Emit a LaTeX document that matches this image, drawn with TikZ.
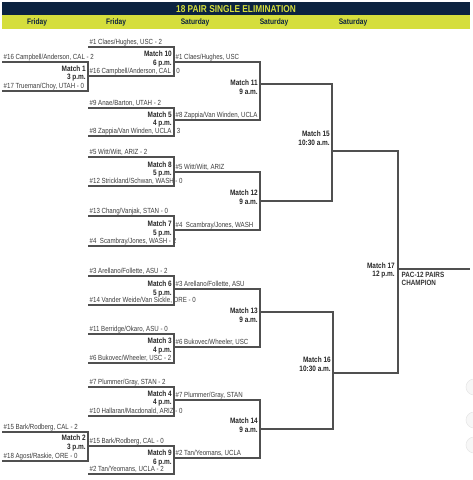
\documentclass[tikz,border=0pt]{standalone}
\usepackage{fontspec}
\setmainfont{Liberation Sans}
\newfontfamily\narrowfont[FakeStretch=0.83]{Liberation Sans}
\usepackage{xcolor}
\usepackage{tikz}
\usetikzlibrary{positioning}
\definecolor{pacnavy}{HTML}{0C2340}
\definecolor{pacyellow}{HTML}{D5DE3C}
\definecolor{linegray}{HTML}{505050}
\definecolor{textgray}{HTML}{3C3C3C}

\begin{document}
\begin{tikzpicture}[
  x=1pt,y=-1pt,
  team/.style={anchor=south west,inner xsep=1.5pt,inner ysep=0.6pt,text depth=1.5pt,font=\narrowfont\fontsize{7.4}{8}\selectfont,text=textgray},
  matchlbl/.style={anchor=east,align=right,inner sep=0pt,font=\narrowfont\bfseries\fontsize{7.8}{8.8}\selectfont,text=black!85},
  champ/.style={anchor=north west,align=left,inner sep=0pt,font=\narrowfont\bfseries\fontsize{7.6}{8.8}\selectfont,text=black!80},
  day/.style={font=\narrowfont\bfseries\fontsize{8}{9}\selectfont,text=pacnavy},
  banner/.style={font=\narrowfont\bfseries\fontsize{10}{11}\selectfont,text=pacyellow},
  bk/.style={draw=linegray,line width=1.1pt}
]
\useasboundingbox (0,0) rectangle (472,480);

% header
\fill[pacnavy] (2,2) rectangle (470,15);
\fill[pacyellow] (2,15) rectangle (470,29);
\node[banner] (title) at (236,8.7) {18 PAIR SINGLE ELIMINATION};
\foreach \x/\d [count=\i] in {37/Friday,116/Friday,195/Saturday,274/Saturday,353/Saturday}
  \node[day] (day\i) at (\x,22.3) {\d};

% Friday, first column
\node[team] (m1a) at (2,62) {\#16 Campbell/Anderson, CAL - 2};
\node[team] (m1b) at (2,91) {\#17 Trueman/Choy, UTAH - 0};
\coordinate (v1t) at (88,62); \coordinate (v1b) at (88,91); \coordinate (m1o) at (88,76);
\draw[bk] (m1a.south west) -- (v1t) -- (v1b) -- (m1b.south west);
\node[matchlbl] (m1) at (86,73.5) {Match 1\\3 p.m.};

\node[team] (m2a) at (2,432) {\#15 Bark/Rodberg, CAL - 2};
\node[team] (m2b) at (2,461) {\#18 Agost/Raskie, ORE - 0};
\coordinate (v2t) at (88,432); \coordinate (v2b) at (88,461); \coordinate (m2o) at (88,446);
\draw[bk] (m2a.south west) -- (v2t) -- (v2b) -- (m2b.south west);
\node[matchlbl] (m2) at (86,443) {Match 2\\3 p.m.};

% Friday, second column
\node[team] (m10a) at (88,47) {\#1 Claes/Hughes, USC - 2};
\node[team] (m10b) at (m1o) {\#16 Campbell/Anderson, CAL - 0};
\coordinate (v10t) at (174,47); \coordinate (v10b) at (174,76); \coordinate (m10o) at (174,62);
\draw[bk] (m10a.south west) -- (v10t) -- (v10b) -- (m10b.south west);
\node[matchlbl] (m10) at (172,59) {Match 10\\6 p.m.};

\node[team] (m5a) at (88,108) {\#9 Anae/Barton, UTAH - 2};
\node[team] (m5b) at (88,136) {\#8 Zappia/Van Winden, UCLA - 3};
\coordinate (v5t) at (174,108); \coordinate (v5b) at (174,136); \coordinate (m5o) at (174,120);
\draw[bk] (m5a.south west) -- (v5t) -- (v5b) -- (m5b.south west);
\node[matchlbl] (m5) at (172,119.5) {Match 5\\4 p.m.};

\node[team] (m8a) at (88,157) {\#5 Witt/Witt, ARIZ - 2};
\node[team] (m8b) at (88,186) {\#12 Strickland/Schwan, WASH - 0};
\coordinate (v8t) at (174,157); \coordinate (v8b) at (174,186); \coordinate (m8o) at (174,172);
\draw[bk] (m8a.south west) -- (v8t) -- (v8b) -- (m8b.south west);
\node[matchlbl] (m8) at (172,169.5) {Match 8\\5 p.m.};

\node[team] (m7a) at (88,216) {\#13 Chang/Vanjak, STAN - 0};
\node[team] (m7b) at (88,246) {\#4\ \ Scambray/Jones, WASH - 2};
\coordinate (v7t) at (174,216); \coordinate (v7b) at (174,246); \coordinate (m7o) at (174,230);
\draw[bk] (m7a.south west) -- (v7t) -- (v7b) -- (m7b.south west);
\node[matchlbl] (m7) at (172,229) {Match 7\\5 p.m.};

\node[team] (m6a) at (88,276) {\#3 Arellano/Follette, ASU - 2};
\node[team] (m6b) at (88,305) {\#14 Vander Weide/Van Sickle, ORE - 0};
\coordinate (v6t) at (174,276); \coordinate (v6b) at (174,305); \coordinate (m6o) at (174,289);
\draw[bk] (m6a.south west) -- (v6t) -- (v6b) -- (m6b.south west);
\node[matchlbl] (m6) at (172,289) {Match 6\\5 p.m.};

\node[team] (m3a) at (88,334) {\#11 Berridge/Okaro, ASU - 0};
\node[team] (m3b) at (88,363) {\#6 Bukovec/Wheeler, USC - 2};
\coordinate (v3t) at (174,334); \coordinate (v3b) at (174,363); \coordinate (m3o) at (174,347);
\draw[bk] (m3a.south west) -- (v3t) -- (v3b) -- (m3b.south west);
\node[matchlbl] (m3) at (172,346) {Match 3\\4 p.m.};

\node[team] (m4a) at (88,387) {\#7 Plummer/Gray, STAN - 2};
\node[team] (m4b) at (88,416) {\#10 Hallaran/Macdonald, ARIZ - 0};
\coordinate (v4t) at (174,387); \coordinate (v4b) at (174,416); \coordinate (m4o) at (174,400);
\draw[bk] (m4a.south west) -- (v4t) -- (v4b) -- (m4b.south west);
\node[matchlbl] (m4) at (172,398.5) {Match 4\\4 p.m.};

\node[team] (m9a) at (m2o) {\#15 Bark/Rodberg, CAL - 0};
\node[team] (m9b) at (88,474) {\#2 Tan/Yeomans, UCLA - 2};
\coordinate (v9t) at (174,446); \coordinate (v9b) at (174,474); \coordinate (m9o) at (174,458);
\draw[bk] (m9a.south west) -- (v9t) -- (v9b) -- (m9b.south west);
\node[matchlbl] (m9) at (172,458) {Match 9\\6 p.m.};

% Saturday morning
\node[team] (m11a) at (m10o) {\#1 Claes/Hughes, USC};
\node[team] (m11b) at (m5o) {\#8 Zappia/Van Winden, UCLA};
\coordinate (v11t) at (260,62); \coordinate (v11b) at (260,120); \coordinate (m11o) at (260,84);
\draw[bk] (m11a.south west) -- (v11t) -- (v11b) -- (m11b.south west);
\node[matchlbl] (m11) at (258,87.5) {Match 11\\9 a.m.};

\node[team] (m12a) at (m8o) {\#5 Witt/Witt, ARIZ};
\node[team] (m12b) at (m7o) {\#4\ \ Scambray/Jones, WASH};
\coordinate (v12t) at (260,172); \coordinate (v12b) at (260,230); \coordinate (m12o) at (260,201);
\draw[bk] (m12a.south west) -- (v12t) -- (v12b) -- (m12b.south west);
\node[matchlbl] (m12) at (258,197.5) {Match 12\\9 a.m.};

\node[team] (m13a) at (m6o) {\#3 Arellano/Follette, ASU};
\node[team] (m13b) at (m3o) {\#6 Bukovec/Wheeler, USC};
\coordinate (v13t) at (260,289); \coordinate (v13b) at (260,347); \coordinate (m13o) at (260,312);
\draw[bk] (m13a.south west) -- (v13t) -- (v13b) -- (m13b.south west);
\node[matchlbl] (m13) at (258,315.5) {Match 13\\9 a.m.};

\node[team] (m14a) at (m4o) {\#7 Plummer/Gray, STAN};
\node[team] (m14b) at (m9o) {\#2 Tan/Yeomans, UCLA};
\coordinate (v14t) at (260,400); \coordinate (v14b) at (260,458); \coordinate (m14o) at (260,429);
\draw[bk] (m14a.south west) -- (v14t) -- (v14b) -- (m14b.south west);
\node[matchlbl] (m14) at (258,425.5) {Match 14\\9 a.m.};

% semifinals and final
\coordinate (v15t) at (332,84); \coordinate (v15b) at (332,201); \coordinate (m15o) at (332,151);
\draw[bk] (m11o) -- (v15t) -- (v15b) -- (m12o);
\node[matchlbl] (m15) at (330,138) {Match 15\\10:30 a.m.};

\coordinate (v16t) at (333,312); \coordinate (v16b) at (333,429); \coordinate (m16o) at (333,373);
\draw[bk] (m13o) -- (v16t) -- (v16b) -- (m14o);
\node[matchlbl] (m16) at (331,364.5) {Match 16\\10:30 a.m.};

\coordinate (v17t) at (398,151); \coordinate (v17b) at (398,373); \coordinate (m17o) at (398,269);
\draw[bk] (m15o) -- (v17t) -- (v17b) -- (m16o);
\node[matchlbl] (m17) at (395,270.5) {Match 17\\12 p.m.};
\coordinate (winner) at (470,269);
\draw[bk] (m17o) -- (winner);
\node[champ] (champ) at (401.5,271.5) {PAC-12 PAIRS\\CHAMPION};

% faint page buttons at the right edge
\foreach \y in {387,420,445}
  \filldraw[fill=gray!6,draw=gray!18,line width=0.6pt] (474,\y) circle (8);
\end{tikzpicture}
\end{document}
